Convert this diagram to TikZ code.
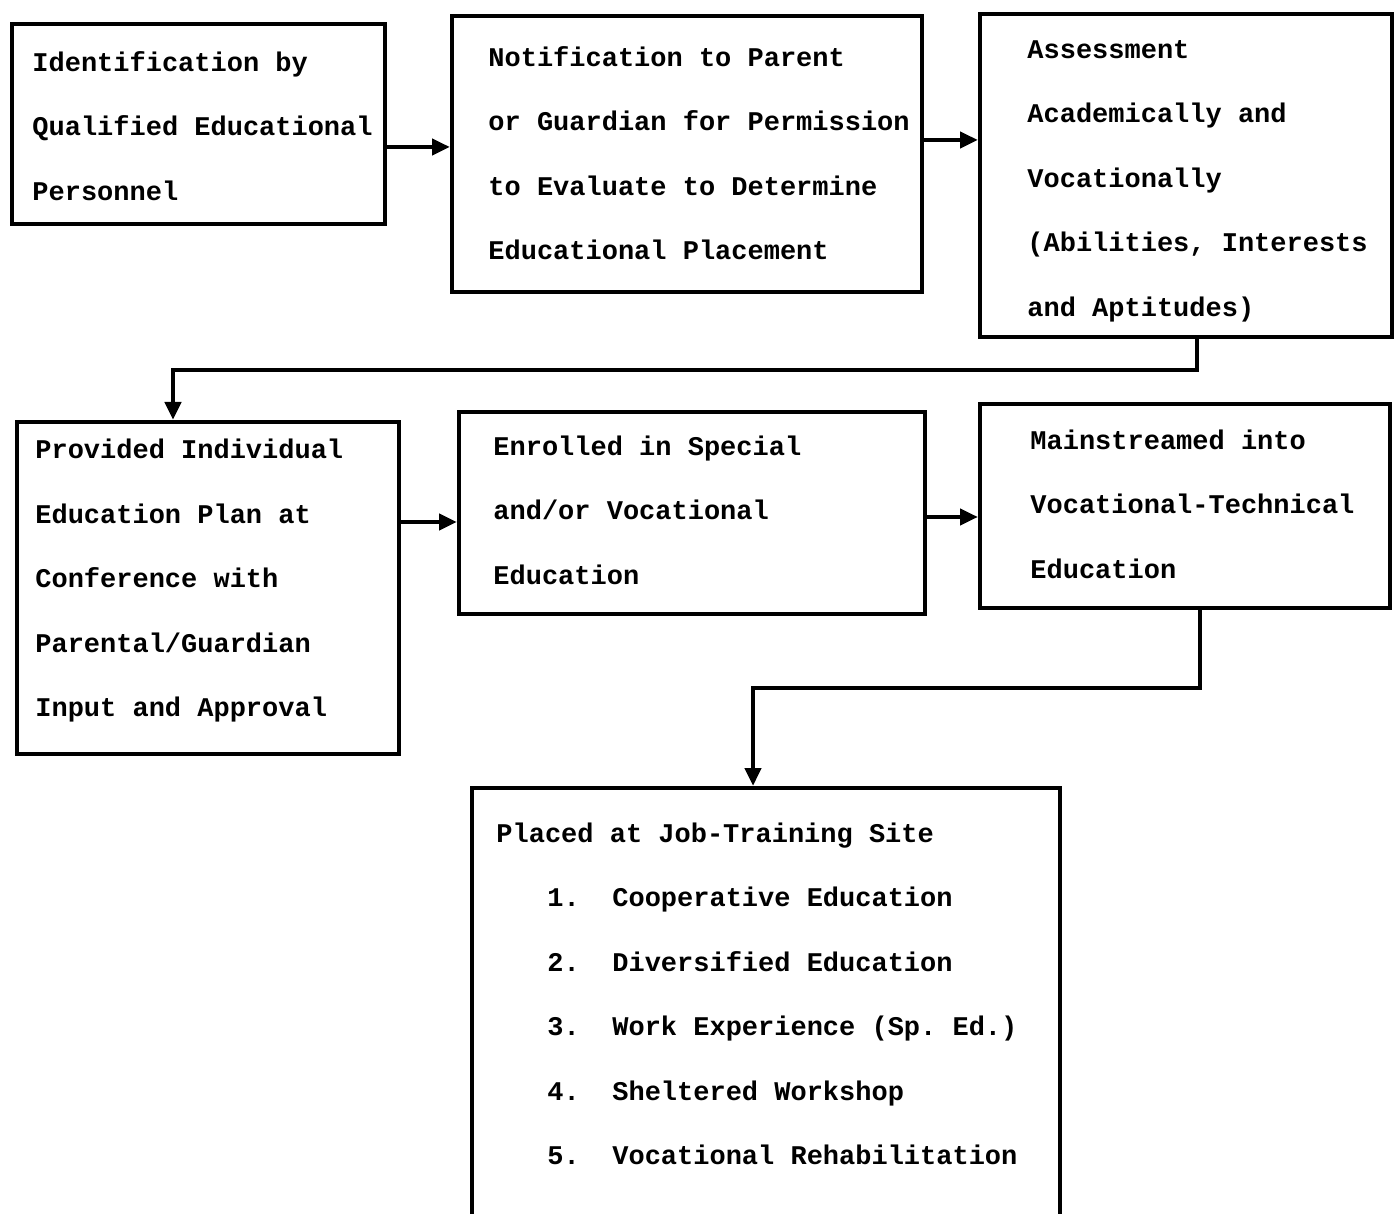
\documentclass[tikz,border=0pt]{standalone}
\usepackage{fontspec}
\setmonofont{Liberation Mono}
\usetikzlibrary{arrows.meta}
\tikzset{
  box/.style={draw, line width=2.2pt, anchor=north west, inner sep=0pt},
  txt/.style={anchor=west, align=left, inner sep=0pt,
    font=\ttfamily\bfseries\fontsize{13.5}{32.25}\selectfont},
  arr/.style={line width=2.3pt, -{Triangle[length=9pt,width=8pt]}},
  ln/.style={line width=2.3pt}
}
\begin{document}
\begin{tikzpicture}[x=0.5pt,y=-0.5pt]
\useasboundingbox (0,0) rectangle (1394,1214);
\clip (0,0) rectangle (1394,1214);
% boxes
\node[box, minimum width=186.5pt, minimum height=100pt] (b1) at (10,22) {};
\node[box, minimum width=235pt, minimum height=138pt] (b2) at (450,14) {};
\node[box, minimum width=206pt, minimum height=161.5pt] (b3) at (978,12) {};
\node[box, minimum width=191pt, minimum height=166pt] (b4) at (15,420) {};
\node[box, minimum width=233pt, minimum height=101pt] (b5) at (457,410) {};
\node[box, minimum width=205pt, minimum height=102pt] (b6) at (978,402) {};
\node[box, minimum width=294pt, minimum height=218pt] (b7) at (470,786) {};
% texts
\node[txt] (t1) at (32,126) {Identification by\\Qualified Educational\\Personnel};
\node[txt] (t2) at (488,153) {Notification to Parent\\or Guardian for Permission\\to Evaluate to Determine\\Educational Placement};
\node[txt] (t3) at (1027,181) {Assessment\\Academically and\\Vocationally\\(Abilities, Interests\\and Aptitudes)};
\node[txt] (t4) at (35,581) {Provided Individual\\Education Plan at\\Conference with\\Parental/Guardian\\Input and Approval};
\node[txt] (t5) at (493,510) {Enrolled in Special\\and/or Vocational\\Education};
\node[txt] (t6) at (1030,504) {Mainstreamed into\\Vocational-Technical\\Education};
\node[txt] (t7) at (496,994) {Placed at Job-Training Site\\
\hspace*{25.5pt}1.\hspace*{16.3pt}Cooperative Education\\
\hspace*{25.5pt}2.\hspace*{16.3pt}Diversified Education\\
\hspace*{25.5pt}3.\hspace*{16.3pt}Work Experience (Sp. Ed.)\\
\hspace*{25.5pt}4.\hspace*{16.3pt}Sheltered Workshop\\
\hspace*{25.5pt}5.\hspace*{16.3pt}Vocational Rehabilitation};
% connector helpers
\coordinate (h12) at (0,147);
\coordinate (h23) at (0,140);
\coordinate (h45) at (0,522);
\coordinate (h56) at (0,517);
\coordinate (j1) at (1197,370);
\coordinate (j2) at (173,370);
\coordinate (k1) at (1200,688);
\coordinate (k2) at (753,688);
% connectors
\draw[arr] (b1.east |- h12) -- (b2.west |- h12);
\draw[arr] (b2.east |- h23) -- (b3.west |- h23);
\draw[arr] (b3.south -| j1) -- (j1) -- (j2) -- (b4.north -| j2);
\draw[arr] (b4.east |- h45) -- (b5.west |- h45);
\draw[arr] (b5.east |- h56) -- (b6.west |- h56);
\draw[arr] (b6.south -| k1) -- (k1) -- (k2) -- (b7.north -| k2);
\end{tikzpicture}
\end{document}
